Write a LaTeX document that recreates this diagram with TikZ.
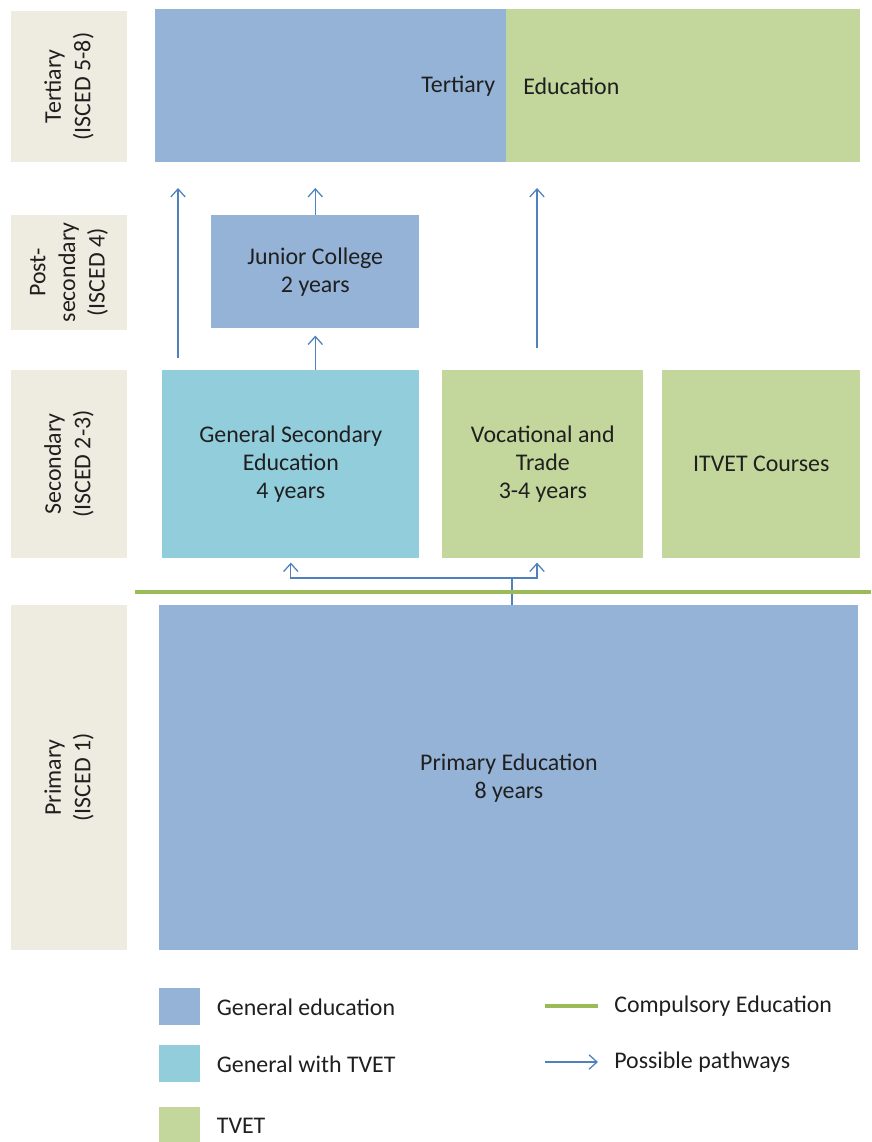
\documentclass[tikz,border=0pt]{standalone}
\usepackage{fontspec}
\setmainfont{Carlito}
\usetikzlibrary{arrows.meta,positioning}
\definecolor{genblue}{HTML}{95B3D7}
\definecolor{mixblue}{HTML}{92CDDC}
\definecolor{tvetgreen}{HTML}{C3D69B}
\definecolor{stagegray}{HTML}{EEECE1}
\definecolor{compgreen}{HTML}{9BBB59}
\definecolor{pathblue}{HTML}{4F81BD}
\begin{document}
\begin{tikzpicture}[x=0.025cm,y=-0.025cm,
	>={Straight Barb[length=2mm,width=3.6mm]},
	every node/.style={font=\fontsize{17}{20}\selectfont,text=black!88,inner sep=0pt,align=center},
	stagelabel/.style={fill=stagegray,rotate=90,minimum height=2.9cm,font=\fontsize{17}{21}\selectfont},
	box/.style={anchor=north west},
	pathway/.style={->,draw=pathblue,line width=0.9pt},
	compline/.style={draw=compgreen,line width=3.5pt}]
		\useasboundingbox (0,0) rectangle (871,1142);
		% stage labels
		\node[stagelabel,minimum width=3.775cm] (tertL) at (69,86.5) {Tertiary\\(ISCED 5-8)};
		\node[stagelabel,minimum width=2.875cm] (postL) at (69,272.5) {Post-\\secondary\\(ISCED 4)};
		\node[stagelabel,minimum width=4.7cm] (secL) at (69,464) {Secondary\\(ISCED 2-3)};
		\node[stagelabel,minimum width=8.625cm] (primL) at (69,777.5) {Primary\\(ISCED 1)};
		% programmes
		\node[box,fill=genblue,minimum height=3.825cm,inner xsep=0.28cm,text width=8.215cm,align=right] (tertGen) at (155,9) {Tertiary};
		\node[box,fill=tvetgreen,minimum height=3.825cm,inner xsep=0.425cm,text width=8.0cm,align=left] (tertTvet) at (506,9) {Education};
		\node[box,fill=genblue,minimum width=5.2cm,minimum height=2.825cm] (junior) at (211,215) {Junior College\\2 years};
		\node[box,fill=mixblue,minimum width=6.425cm,minimum height=4.7cm] (gse) at (162,370) {General Secondary\\Education\\4 years};
		\node[box,fill=tvetgreen,minimum width=5.025cm,minimum height=4.7cm] (voc) at (442,370) {Vocational and\\Trade\\3-4 years};
		\node[box,fill=tvetgreen,minimum width=4.95cm,minimum height=4.7cm] (itvet) at (662,370) {ITVET Courses};
		\node[box,fill=genblue,minimum width=17.475cm,minimum height=8.625cm] (prim) at (159,605) {Primary Education\\8 years};
		% pathways
		\coordinate (tgap) at (0,188);
		\coordinate (a1) at (178,358);
		\coordinate (a4) at (537,348);
		\coordinate (split) at (512,578);
		\draw[pathway] (a1) -- (a1 |- tgap);
		\draw[pathway] (junior.north) -- (junior.north |- tgap);
		\draw[pathway] (junior.south |- gse.north) -- ([yshift=-0.175cm]junior.south);
		\draw[pathway] (a4) -- (a4 |- tgap);
		\draw[pathway,-] (prim.north -| split) -- (split);
		\draw[pathway] (split) -| ([yshift=-0.1cm]gse.south);
		\draw[pathway] (split) -| ([yshift=-0.1cm]gse.south -| a4);
		% compulsory education
		\draw[compline] (135,592) -- (871,592);
		% legend
		\node[box,fill=genblue,minimum width=1.025cm,minimum height=0.925cm] (legGen) at (159,988) {};
		\node[right=0.4cm of legGen] (legGenT) {General education};
		\node[box,fill=mixblue,minimum width=1.025cm,minimum height=0.925cm] (legMix) at (159,1045) {};
		\node[right=0.4cm of legMix] (legMixT) {General with TVET};
		\node[box,fill=tvetgreen,minimum width=1.025cm,minimum height=0.925cm] (legTvet) at (159,1107) {};
		\node[right=0.4cm of legTvet] (legTvetT) {TVET};
		\coordinate (legC) at (545,1006);
		\coordinate (legP) at (545,1062);
		\node[anchor=west] (legCT) at (614,1006) {Compulsory Education};
		\node[anchor=west] (legPT) at (614,1062) {Possible pathways};
		\draw[compline] (legC) -- ([xshift=-0.4cm]legCT.west);
		\draw[pathway] (legP) -- ([xshift=-0.4cm]legPT.west);
\end{tikzpicture}
\end{document}
